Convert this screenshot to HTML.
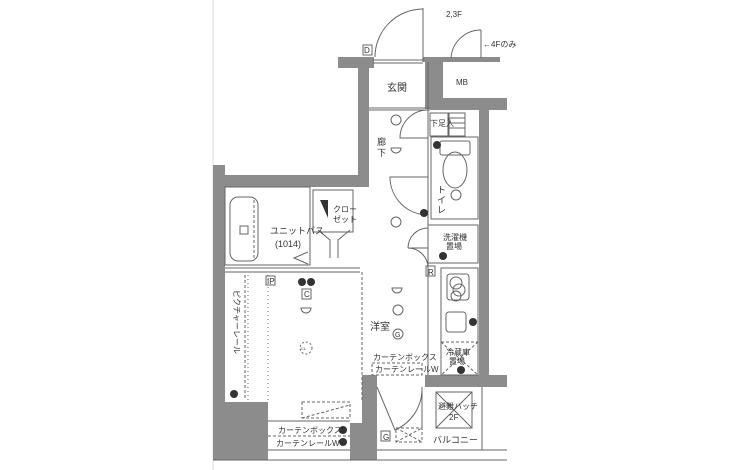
<!DOCTYPE html>
<html><head><meta charset="utf-8"><style>
html,body{margin:0;padding:0;background:#fff;}
svg{display:block;}
text{font-family:"Liberation Sans","Noto Sans CJK JP",sans-serif;fill:#333;}
</style></head><body>
<svg width="730" height="470" viewBox="0 0 730 470" xmlns="http://www.w3.org/2000/svg">
<rect width="730" height="470" fill="#fff"/>
<line x1="213" y1="0" x2="213" y2="470" stroke="#ddd" stroke-width="1"/>
<g fill="#8c8c8c">
<rect x="338" y="57" width="36" height="11"/>
<rect x="358" y="57" width="11" height="130"/>
<rect x="213" y="175" width="156" height="12"/>
<rect x="213" y="165" width="12" height="295"/>
<rect x="423" y="57" width="77" height="5"/>
<rect x="425" y="57" width="18" height="52"/>
<rect x="430" y="98" width="77" height="12"/>
<rect x="479" y="98" width="10" height="285"/>
<rect x="425" y="375" width="82" height="12"/>
<rect x="362" y="375" width="15" height="85"/>
<rect x="225" y="402" width="43" height="58"/>
<rect x="350" y="423" width="27" height="37"/>
</g>
<g fill="none" stroke="#666" stroke-width="1">
<line x1="213" y1="460" x2="507" y2="460"/>
<line x1="373" y1="60" x2="423" y2="60"/>
<line x1="373" y1="63" x2="423" y2="63"/>
<line x1="423" y1="8" x2="423" y2="62"/>
<path d="M375 57 A48 48 0 0 1 423 9"/>
<line x1="481" y1="30" x2="481" y2="58"/>
<path d="M451 58 A30 30 0 0 1 481 30"/>
<line x1="369" y1="108" x2="430" y2="108"/>
<line x1="369" y1="110" x2="430" y2="110"/>
<line x1="428" y1="62" x2="428" y2="375"/>
<path d="M428 110 A28 28 0 0 0 400 138 L428 138"/>
<rect x="430" y="113" width="18" height="23"/>
<rect x="449" y="113" width="16" height="23"/>
<line x1="449" y1="118" x2="465" y2="118"/><line x1="449" y1="123" x2="465" y2="123"/><line x1="449" y1="128" x2="465" y2="128"/>
<rect x="431" y="137" width="47" height="82"/>
<rect x="440" y="141" width="30" height="14" rx="2"/>
<ellipse cx="455" cy="170" rx="12" ry="18"/>
<circle cx="456" cy="195" r="5"/>
<path d="M428 215 A38 38 0 0 1 390 177 L428 177"/>
<rect x="428" y="225" width="50" height="38"/>
<rect x="441" y="268" width="37" height="107"/>
<rect x="447" y="274" width="22" height="26" rx="3"/>
<circle cx="456" cy="283" r="6"/><circle cx="459" cy="290" r="6"/><circle cx="456" cy="296" r="5"/>
<rect x="446" y="312" width="20" height="20" rx="3"/>
<line x1="441" y1="342" x2="478" y2="342" stroke-dasharray="3 2"/>
<line x1="441" y1="342" x2="478" y2="375" stroke-dasharray="3 2"/>
<line x1="478" y1="342" x2="441" y2="375" stroke-dasharray="3 2"/>
<path d="M428 268 A20 20 0 0 0 408 248 L428 248"/>
<path d="M428 228 A20 20 0 0 0 408 248"/>
<rect x="225" y="187" width="85" height="78"/>
<rect x="230" y="197" width="28" height="64" rx="8"/>
<line x1="254" y1="200" x2="254" y2="258" stroke-dasharray="3 2"/>
<rect x="240" y="226" width="8" height="8"/>
<path d="M308 252 L294 258 L308 264"/>
<rect x="313" y="190" width="40" height="42"/>
<path d="M318 230 L330 240 L330 258 M350 230 L338 240 L338 258"/>
<line x1="225" y1="268" x2="360" y2="268"/>
<line x1="225" y1="272" x2="360" y2="272"/>
<line x1="262" y1="272" x2="362" y2="272" stroke-dasharray="3 2"/>
<line x1="362" y1="272" x2="362" y2="402" stroke-dasharray="3 2"/>
<line x1="245" y1="275" x2="245" y2="400" stroke-dasharray="3 2"/>
<line x1="248" y1="275" x2="248" y2="400" stroke-dasharray="1 3"/>
<line x1="268" y1="275" x2="268" y2="400" stroke-dasharray="1 3"/>
<rect x="302" y="402" width="48" height="16" stroke-dasharray="3 2"/>
<line x1="302" y1="418" x2="350" y2="405" stroke-dasharray="3 2"/>
<line x1="268" y1="421" x2="350" y2="421"/>
<line x1="268" y1="436" x2="350" y2="436" stroke-dasharray="3 2"/>
<line x1="268" y1="450" x2="350" y2="450"/>
<circle cx="306" cy="348" r="6" stroke-dasharray="2 2"/>
<rect x="372" y="363" width="50" height="12" stroke-dasharray="3 2"/>
<path d="M377 387 L395 430 A45 45 0 0 0 422 390"/>
<line x1="422" y1="387" x2="422" y2="430"/>
<rect x="396" y="428" width="26" height="14" stroke-dasharray="3 2"/>
<line x1="396" y1="428" x2="422" y2="442" stroke-dasharray="3 2"/>
<line x1="396" y1="442" x2="422" y2="428" stroke-dasharray="3 2"/>
<rect x="436" y="392" width="36" height="36"/>
<line x1="436" y1="392" x2="472" y2="428"/><line x1="472" y1="392" x2="436" y2="428"/>
<line x1="482" y1="387" x2="482" y2="450"/>
<line x1="377" y1="450" x2="507" y2="450"/>
<circle cx="396" cy="120" r="5"/>
<path d="M391 148 A5 5 0 0 0 401 148 L391 148"/>
<circle cx="396" cy="222" r="5"/>
<path d="M392 288 A5 5 0 0 0 402 288 Z"/>
<circle cx="398" cy="310" r="5"/>
<path d="M301 308 A5 5 0 0 0 311 308 Z"/>
<circle cx="398" cy="334" r="5"/>
<rect x="363" y="45" width="9" height="10"/>
<rect x="426" y="266" width="9" height="10"/>
<rect x="302" y="289" width="9" height="10"/>
<rect x="381" y="431" width="9" height="10"/>
<rect x="266" y="276" width="9" height="9"/>
</g>
<g fill="#333">
<circle cx="437" cy="145" r="4"/><circle cx="424" cy="213" r="4"/>
<circle cx="443" cy="256" r="4"/><circle cx="473" cy="322" r="4"/>
<circle cx="461" cy="370" r="4"/><circle cx="302" cy="282" r="4"/><circle cx="311" cy="282" r="4"/>
<circle cx="234" cy="394" r="4"/><circle cx="343" cy="430" r="4"/><circle cx="343" cy="442" r="4"/>
<path d="M320 200 L328 200 L328 218 Z"/>
</g>
<g font-size="8">
<text x="446" y="17">2,3F</text>
<text x="483" y="47">←4Fのみ</text>
<text x="364" y="53" font-size="8">D</text>
<text x="387" y="91" font-size="10">玄関</text>
<text x="456" y="85">MB</text>
<text x="430" y="126">下足入</text>
<text x="377" y="145" font-size="9">廊</text><text x="377" y="156" font-size="9">下</text>
<text x="437" y="193" font-size="9">ト</text><text x="437" y="203" font-size="9">イ</text><text x="437" y="213" font-size="9">レ</text>
<text x="333" y="212">クロー</text><text x="333" y="222">ゼット</text>
<text x="270" y="234" font-size="9">ユニットバス</text>
<text x="275" y="247" font-size="9">(1014)</text>
<text x="443" y="240">洗濯機</text><text x="446" y="249">置場</text>
<text x="428" y="275">R</text>
<text x="267" y="284">IP</text>
<text x="304" y="297">C</text>
<text x="370" y="330" font-size="10">洋室</text>
<text x="395" y="337" font-size="7">G</text>
<text x="301" y="350" font-size="4">CL</text>
<text x="373" y="360">カーテンボックス</text>
<text x="375" y="372">カーテンレールW</text>
<text x="446" y="355">冷蔵庫</text><text x="449" y="364">置場</text>
<text x="438" y="409">避難ハッチ</text><text x="449" y="420">2F</text>
<text x="383" y="440">G</text>
<text x="433" y="443" font-size="9">バルコニー</text>
<text x="278" y="433">カーテンボックス</text>
<text x="276" y="446">カーテンレールW</text>
<text font-size="8" transform="translate(234,290) rotate(90)">ピクチャーレール</text>
</g>
</svg>
</body></html>
